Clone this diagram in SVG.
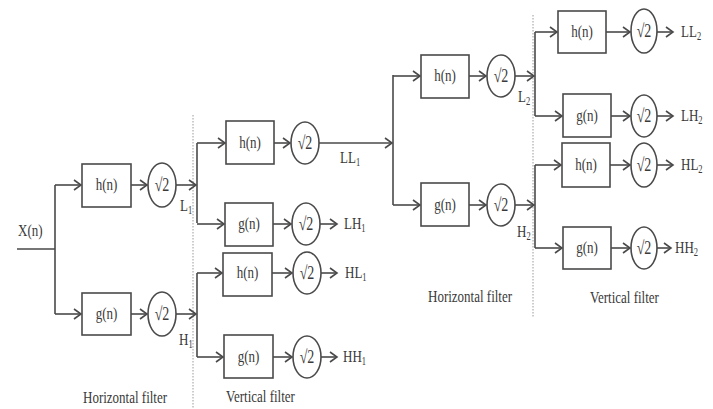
<svg xmlns="http://www.w3.org/2000/svg" width="713" height="409" viewBox="0 0 713 409">
<defs>
<marker id="ah" markerWidth="10" markerHeight="12" refX="8" refY="6" orient="auto" markerUnits="userSpaceOnUse">
<path d="M1,1 L8,6 L1,11" fill="none" stroke="#4a4a4a" stroke-width="1.6"/>
</marker>
</defs>
<style>
.ln{stroke:#4a4a4a;stroke-width:1.6;fill:none}
.ar{stroke:#4a4a4a;stroke-width:1.6;fill:none;marker-end:url(#ah)}
.bx{stroke:#4a4a4a;stroke-width:1.6;fill:#fff}
.dot{stroke:#9a9a9a;stroke-width:1;stroke-dasharray:1.5,1.5;fill:none}
text{font-family:"Liberation Serif","Times New Roman",serif;font-size:13px;fill:#3a3a3a}
.c{text-anchor:middle}
.r{font-size:14px}
.s{font-size:8.5px}
</style>
<rect width="713" height="409" fill="#fff"/>
<g id="dividers">
<line class="dot" x1="193" y1="115" x2="193" y2="409"/>
<line class="dot" x1="533" y1="15" x2="533" y2="318"/>
</g>
<g id="connectors">
<path class="ln" d="M17,249 H55 M55,185 V314"/>
<path class="ar" d="M55,185 H81"/>
<path class="ar" d="M55,314 H81"/>
<path class="ar" d="M131,185 H147"/>
<path class="ar" d="M131,314 H147"/>
<path class="ar" d="M176,185 H196"/>
<path class="ar" d="M176,314 H196"/>
<path class="ln" d="M197,143 V223 M197,273 V357"/>
<path class="ar" d="M197,143 H225"/>
<path class="ar" d="M197,224 H224"/>
<path class="ar" d="M197,273 H222"/>
<path class="ar" d="M197,357 H223"/>
<path class="ar" d="M274,143 H290"/>
<path class="ar" d="M273,224 H291"/>
<path class="ar" d="M272,273 H292"/>
<path class="ar" d="M273,357 H292"/>
<path class="ar" d="M319,143 H392"/>
<path class="ar" d="M320,224 H337"/>
<path class="ar" d="M321,273 H337"/>
<path class="ar" d="M321,357 H337"/>
<path class="ln" d="M393,75 V205"/>
<path class="ar" d="M393,76 H420"/>
<path class="ar" d="M393,205 H420"/>
<path class="ar" d="M469,76 H486"/>
<path class="ar" d="M469,205 H486"/>
<path class="ar" d="M515,76 H534"/>
<path class="ar" d="M515,205 H534"/>
<path class="ln" d="M535,32 V116 M535,165 V248"/>
<path class="ar" d="M535,32 H557"/>
<path class="ar" d="M535,116 H562"/>
<path class="ar" d="M535,165 H561"/>
<path class="ar" d="M535,248 H562"/>
<path class="ar" d="M606,32 H630"/>
<path class="ar" d="M611,116 H630"/>
<path class="ar" d="M610,165 H630"/>
<path class="ar" d="M611,248 H630"/>
<path class="ar" d="M657,32 H673"/>
<path class="ar" d="M657,116 H673"/>
<path class="ar" d="M657,165 H673"/>
<path class="ar" d="M657,248 H671"/>
</g>
<g id="h1">
<rect class="bx" x="82" y="164" width="49" height="43"/>
<text class="c" transform="translate(106.5,190) scale(1,1.35)">h(n)</text>
</g>
<g id="d1">
<ellipse class="bx" cx="162" cy="185" rx="14" ry="22"/>
<text class="c r" transform="translate(162,191) scale(1,1.35)">√2</text>
</g>
<g id="g1">
<rect class="bx" x="82" y="293" width="49" height="42"/>
<text class="c" transform="translate(106.5,319) scale(1,1.35)">g(n)</text>
</g>
<g id="d2">
<ellipse class="bx" cx="162" cy="314" rx="14" ry="22"/>
<text class="c r" transform="translate(162,320) scale(1,1.35)">√2</text>
</g>
<g id="h2">
<rect class="bx" x="226" y="121" width="48" height="43"/>
<text class="c" transform="translate(250,148) scale(1,1.35)">h(n)</text>
</g>
<g id="d3">
<ellipse class="bx" cx="305" cy="143" rx="14" ry="21"/>
<text class="c r" transform="translate(305,149) scale(1,1.35)">√2</text>
</g>
<g id="g2">
<rect class="bx" x="225" y="203" width="48" height="43"/>
<text class="c" transform="translate(249,229) scale(1,1.35)">g(n)</text>
</g>
<g id="d4">
<ellipse class="bx" cx="306" cy="224" rx="14" ry="21"/>
<text class="c r" transform="translate(306,230) scale(1,1.35)">√2</text>
</g>
<g id="h3">
<rect class="bx" x="223" y="253" width="49" height="43"/>
<text class="c" transform="translate(247.5,278) scale(1,1.35)">h(n)</text>
</g>
<g id="d5">
<ellipse class="bx" cx="307" cy="273" rx="14" ry="21"/>
<text class="c r" transform="translate(307,279) scale(1,1.35)">√2</text>
</g>
<g id="g3">
<rect class="bx" x="224" y="335" width="49" height="43"/>
<text class="c" transform="translate(248.5,362) scale(1,1.35)">g(n)</text>
</g>
<g id="d6">
<ellipse class="bx" cx="307" cy="357" rx="14" ry="21"/>
<text class="c r" transform="translate(307,363) scale(1,1.35)">√2</text>
</g>
<g id="h4">
<rect class="bx" x="421" y="55" width="48" height="43"/>
<text class="c" transform="translate(445,81) scale(1,1.35)">h(n)</text>
</g>
<g id="d7">
<ellipse class="bx" cx="501" cy="76" rx="14" ry="21"/>
<text class="c r" transform="translate(501,82) scale(1,1.35)">√2</text>
</g>
<g id="g4">
<rect class="bx" x="421" y="183" width="48" height="43"/>
<text class="c" transform="translate(445,210) scale(1,1.35)">g(n)</text>
</g>
<g id="d8">
<ellipse class="bx" cx="501" cy="205" rx="14" ry="21"/>
<text class="c r" transform="translate(501,211) scale(1,1.35)">√2</text>
</g>
<g id="h5">
<rect class="bx" x="558" y="11" width="48" height="42"/>
<text class="c" transform="translate(582,37) scale(1,1.35)">h(n)</text>
</g>
<g id="d9">
<ellipse class="bx" cx="644" cy="31" rx="13" ry="22"/>
<text class="c r" transform="translate(644,37) scale(1,1.35)">√2</text>
</g>
<g id="g5">
<rect class="bx" x="563" y="94" width="48" height="43"/>
<text class="c" transform="translate(587,121) scale(1,1.35)">g(n)</text>
</g>
<g id="d10">
<ellipse class="bx" cx="644" cy="116" rx="13" ry="21"/>
<text class="c r" transform="translate(644,122) scale(1,1.35)">√2</text>
</g>
<g id="h6">
<rect class="bx" x="562" y="143" width="48" height="44"/>
<text class="c" transform="translate(586,170) scale(1,1.35)">h(n)</text>
</g>
<g id="d11">
<ellipse class="bx" cx="644" cy="165" rx="13" ry="22"/>
<text class="c r" transform="translate(644,171) scale(1,1.35)">√2</text>
</g>
<g id="g6">
<rect class="bx" x="563" y="227" width="48" height="42"/>
<text class="c" transform="translate(587,253) scale(1,1.35)">g(n)</text>
</g>
<g id="d12">
<ellipse class="bx" cx="644" cy="248" rx="13" ry="21"/>
<text class="c r" transform="translate(644,254) scale(1,1.35)">√2</text>
</g>
<g id="labels">
<text transform="translate(18,236) scale(1,1.35)">X(n)</text>
<text transform="translate(180,211) scale(1,1.35)">L<tspan class="s" dy="2">1</tspan></text>
<text transform="translate(179,345) scale(1,1.35)">H<tspan class="s" dy="2">1</tspan></text>
<text transform="translate(340,163) scale(1,1.35)">LL<tspan class="s" dy="2">1</tspan></text>
<text transform="translate(344,229) scale(1,1.35)">LH<tspan class="s" dy="2">1</tspan></text>
<text transform="translate(345,278) scale(1,1.35)">HL<tspan class="s" dy="2">1</tspan></text>
<text transform="translate(343,362) scale(1,1.35)">HH<tspan class="s" dy="2">1</tspan></text>
<text transform="translate(518,102) scale(1,1.35)">L<tspan class="s" dy="2">2</tspan></text>
<text transform="translate(517,237) scale(1,1.35)">H<tspan class="s" dy="2">2</tspan></text>
<text transform="translate(681,37) scale(1,1.35)">LL<tspan class="s" dy="2">2</tspan></text>
<text transform="translate(681,121) scale(1,1.35)">LH<tspan class="s" dy="2">2</tspan></text>
<text transform="translate(681,170) scale(1,1.35)">HL<tspan class="s" dy="2">2</tspan></text>
<text transform="translate(675,253) scale(1,1.35)">HH<tspan class="s" dy="2">2</tspan></text>
<text transform="translate(83,403) scale(1,1.35)">Horizontal filter</text>
<text transform="translate(226,402) scale(1,1.35)">Vertical filter</text>
<text transform="translate(428,302) scale(1,1.35)">Horizontal filter</text>
<text transform="translate(590,303) scale(1,1.35)">Vertical filter</text>
</g>
</svg>
